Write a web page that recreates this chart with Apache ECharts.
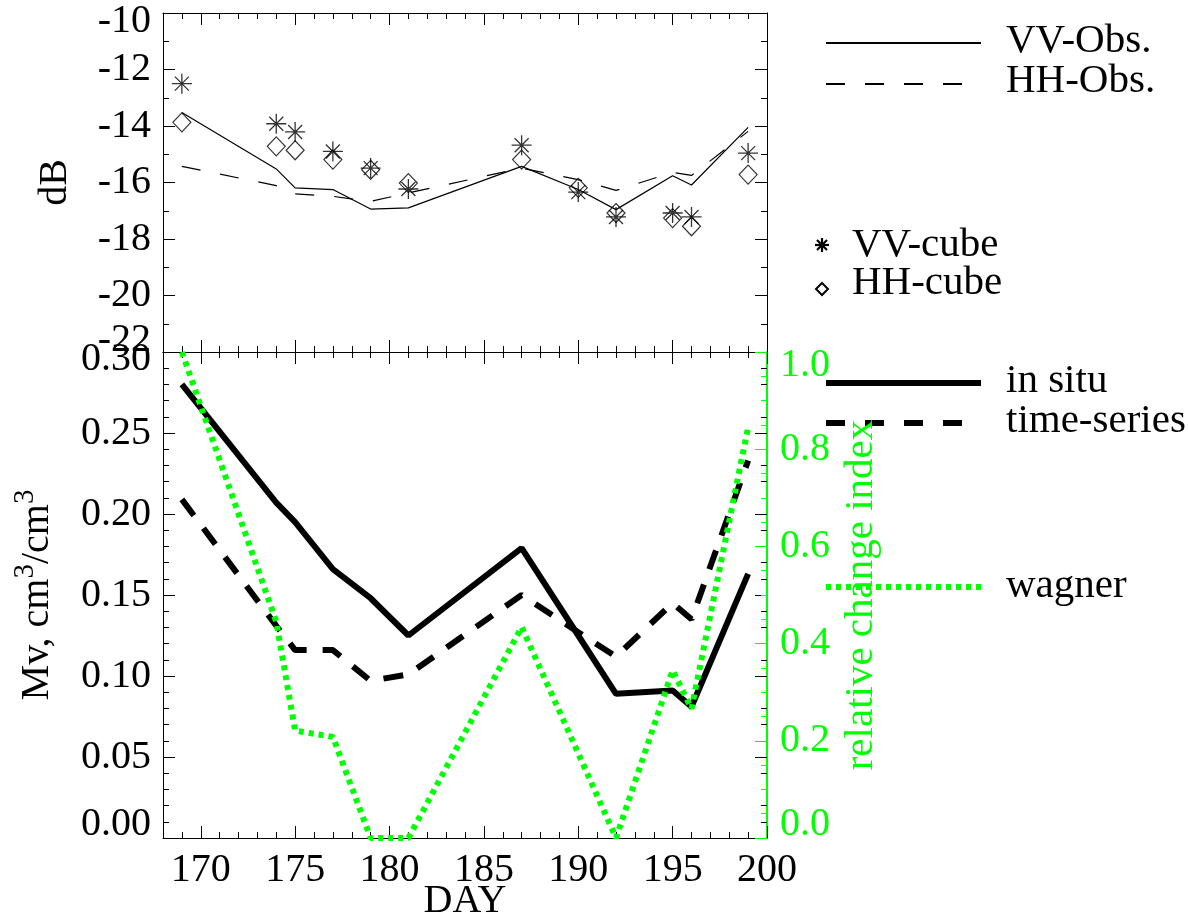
<!DOCTYPE html>
<html><head><meta charset="utf-8">
<script src="https://cdn.jsdelivr.net/npm/echarts@6/dist/echarts.min.js"></script>
<style>html,body{margin:0;padding:0;background:#fff}#c{width:1188px;height:917px}</style>
</head><body><div id="c"></div>
<script>
// ---------------- data ----------------
const days = [169, 174, 175, 177, 179, 181, 187, 190, 192, 195, 196, 199];
const vvObs = [-13.52, -15.52, -16.19, -16.25, -16.94, -16.90, -15.43, -16.25, -16.96, -15.76, -16.09, -14.05];
const hhObs = [-15.43, -16.11, -16.40, -16.49, -16.67, -16.37, -15.49, -15.90, -16.28, -15.64, -15.75, -14.19];
const vvCube = [-12.50, -13.92, -14.21, -14.90, -15.49, -16.23, -14.68, -16.34, -17.22, -17.08, -17.22, -14.96];
const hhCube = [-13.87, -14.72, -14.86, -15.19, -15.55, -16.02, -15.19, -16.19, -17.08, -17.26, -17.55, -15.72];
const inSitu = [0.280, 0.207, 0.195, 0.166, 0.148, 0.125, 0.179, 0.125, 0.089, 0.091, 0.081, 0.163];
const timeSeries = [0.209, 0.131, 0.116, 0.116, 0.097, 0.101, 0.150, 0.127, 0.112, 0.145, 0.135, 0.233];
const wagner = [1.00, 0.445, 0.221, 0.208, 0.0, 0.0, 0.434, 0.174, 0.0, 0.345, 0.266, 0.845];

const xMajorTicks = [170, 175, 180, 185, 190, 195, 200];
const dbRange = [-22, -10];
const mvRange = [0, 0.30];
const rciRange = [0, 1.0];

// ---------------- style ----------------
const FONT = 'Liberation Serif';
const FS = 40;
const LFS = 41;
const GREEN = '#00ff00';
const pairs = (ys) => days.map((d, i) => [d, ys[i]]);
const near = (a, b) => Math.abs(a - b) < 1e-9;

function xMinor(grid, pos) {
  return {type: 'value', gridIndex: grid, position: pos, min: 168, max: 200, interval: 1,
    axisLine: {show: true, onZero: false, lineStyle: {color: '#000', width: 1}},
    axisTick: {show: true, inside: true, length: 6, lineStyle: {color: '#000', width: 1}},
    axisLabel: {show: false}, splitLine: {show: false}};
}
function xMajor(grid, pos, labels, name) {
  return {type: 'value', gridIndex: grid, position: pos, min: 168, max: 200, interval: 1,
    name: name || '', nameLocation: 'middle', nameGap: 43, nameMoveOverlap: false,
    nameTextStyle: {fontFamily: FONT, fontSize: FS, color: '#000'},
    axisLine: {show: false, onZero: false},
    axisTick: {show: true, inside: true, length: 12, customValues: xMajorTicks, lineStyle: {color: '#000', width: 1}},
    axisLabel: {show: labels, customValues: xMajorTicks, margin: 12, fontFamily: FONT, fontSize: FS, color: '#000'},
    splitLine: {show: false}};
}
function edgeFmt(min, max, dec) {
  return function (v) {
    const s = v.toFixed(dec);
    if (near(v, min)) return '{lo|' + s + '}';
    if (near(v, max)) return '{hi|' + s + '}';
    return s;
  };
}
function richFor(color, up, down) {
  return {
    lo: {fontFamily: FONT, fontSize: FS, color: color, padding: [0, 0, up, 0]},
    hi: {fontFamily: FONT, fontSize: FS, color: color, padding: [down, 0, 0, 0]}
  };
}
function txt(x, y, s) {
  return {type: 'text', x: x, y: y, style: {text: s, font: LFS + 'px "' + FONT + '"', fill: '#000', verticalAlign: 'middle'}};
}
function seg(x1, y1, x2, y2, w) {
  return {type: 'line', shape: {x1: x1, y1: y1, x2: x2, y2: y2}, style: {stroke: '#000', lineWidth: w}};
}

const option = {
  animation: false,
  backgroundColor: '#fff',
  grid: [
    {left: 163, top: 13, width: 604, height: 339, outerBoundsMode: 'none', containLabel: false},
    {left: 163, top: 352, width: 604, height: 486, outerBoundsMode: 'none', containLabel: false}
  ],
  xAxis: [
    xMinor(0, 'bottom'), xMajor(0, 'bottom', false),
    xMinor(0, 'top'), xMajor(0, 'top', false),
    xMinor(1, 'bottom'), xMajor(1, 'bottom', true, 'DAY'),
    xMinor(1, 'top'), xMajor(1, 'top', false)
  ],
  yAxis: [
    {type: 'value', gridIndex: 0, position: 'left', min: dbRange[0], max: dbRange[1], interval: 2,
      name: 'dB', nameLocation: 'middle', nameGap: 88, nameRotate: 90,
      nameTextStyle: {fontFamily: FONT, fontSize: FS, color: '#000'},
      axisLine: {show: true, onZero: false, lineStyle: {color: '#000', width: 1}},
      axisTick: {show: true, inside: true, length: 12, lineStyle: {color: '#000'}},
      minorTick: {show: true, splitNumber: 2, length: 6, lineStyle: {color: '#000'}},
      axisLabel: {margin: 12, fontFamily: FONT, fontSize: FS, color: '#000',
        formatter: edgeFmt(dbRange[0], dbRange[1], 0), rich: richFor('#000', 24, 16)},
      splitLine: {show: false}},
    {type: 'value', gridIndex: 0, position: 'right', min: dbRange[0], max: dbRange[1], interval: 2,
      axisLine: {show: true, onZero: false, lineStyle: {color: '#000', width: 1}},
      axisTick: {show: true, inside: true, length: 12, lineStyle: {color: '#000'}},
      minorTick: {show: true, splitNumber: 2, length: 6, lineStyle: {color: '#000'}},
      axisLabel: {show: false}, splitLine: {show: false}},
    {type: 'value', gridIndex: 1, position: 'left', min: mvRange[0], max: mvRange[1], interval: 0.05,
      name: '{b|Mv, cm}{s|3}{b|/cm}{s|3}', nameLocation: 'middle', nameGap: 100, nameRotate: 90,
      nameTextStyle: {fontFamily: FONT, fontSize: FS, color: '#000',
        rich: {
          b: {fontFamily: FONT, fontSize: FS, color: '#000', lineHeight: 52, verticalAlign: 'middle'},
          s: {fontFamily: FONT, fontSize: 29, color: '#000', lineHeight: 30, verticalAlign: 'top'}
        }},
      axisLine: {show: true, onZero: false, lineStyle: {color: '#000', width: 1}},
      axisTick: {show: true, inside: true, length: 12, lineStyle: {color: '#000'}},
      minorTick: {show: true, splitNumber: 5, length: 6, lineStyle: {color: '#000'}},
      axisLabel: {margin: 12, fontFamily: FONT, fontSize: FS, color: '#000',
        formatter: edgeFmt(mvRange[0], mvRange[1], 2), rich: richFor('#000', 27, 14)},
      splitLine: {show: false}},
    {type: 'value', gridIndex: 1, position: 'right', min: mvRange[0], max: mvRange[1], interval: 0.05,
      axisLine: {show: false, onZero: false},
      axisTick: {show: true, inside: true, length: 12, lineStyle: {color: '#000'}},
      minorTick: {show: true, splitNumber: 5, length: 6, lineStyle: {color: '#000'}},
      axisLabel: {show: false}, splitLine: {show: false}},
    {type: 'value', gridIndex: 1, position: 'right', min: rciRange[0], max: rciRange[1], interval: 0.2,
      name: 'relative change index', nameLocation: 'middle', nameGap: 68, nameRotate: 90,
      nameTextStyle: {fontFamily: FONT, fontSize: 41, color: GREEN},
      axisLine: {show: true, onZero: false, lineStyle: {color: GREEN, width: 2}},
      axisTick: {show: true, inside: true, length: 12, lineStyle: {color: GREEN}},
      minorTick: {show: true, splitNumber: 4, length: 6, lineStyle: {color: GREEN}},
      axisLabel: {margin: 13, fontFamily: FONT, fontSize: FS, color: GREEN,
        formatter: edgeFmt(rciRange[0], rciRange[1], 1), rich: richFor(GREEN, 27, 26)},
      splitLine: {show: false}}
  ],
  series: [
    {name: 'VV-Obs.', type: 'line', xAxisIndex: 0, yAxisIndex: 0, data: pairs(vvObs),
      symbol: 'none', lineStyle: {color: '#000', width: 1.2}},
    {name: 'HH-Obs.', type: 'line', xAxisIndex: 0, yAxisIndex: 0, data: pairs(hhObs),
      symbol: 'none', lineStyle: {color: '#000', width: 1.2, type: [19, 20]}},
    {name: 'HH-cube', type: 'scatter', xAxisIndex: 0, yAxisIndex: 0, data: pairs(hhCube),
      symbol: 'diamond', symbolSize: [18, 19],
      itemStyle: {color: 'rgba(0,0,0,0)', borderColor: '#000', borderWidth: 1.2}},
    {name: 'VV-cube', type: 'scatter', xAxisIndex: 0, yAxisIndex: 0, data: pairs(vvCube),
      symbol: 'path://M0,10L20,10M10,0L10,20M3,3L17,17M17,3L3,17', symbolSize: [20, 20],
      itemStyle: {color: '#000', borderColor: '#000', borderWidth: 1.3}},
    {name: 'in situ', type: 'line', xAxisIndex: 4, yAxisIndex: 2, data: pairs(inSitu),
      symbol: 'none', lineStyle: {color: '#000', width: 6}},
    {name: 'time-series', type: 'line', xAxisIndex: 4, yAxisIndex: 2, data: pairs(timeSeries),
      symbol: 'none', lineStyle: {color: '#000', width: 6, type: [20, 16]}},
    {name: 'wagner', type: 'line', xAxisIndex: 4, yAxisIndex: 4, data: pairs(wagner), clip: false,
      symbol: 'none', lineStyle: {color: GREEN, width: 6, type: [5, 5]}}
  ],
  graphic: [
    seg(826, 43, 981, 43, 2),
    {type: 'line', shape: {x1: 826, y1: 84, x2: 962, y2: 84}, style: {stroke: '#000', lineWidth: 2, lineDash: [19, 20]}},
    txt(1006, 41, 'VV-Obs.'),
    txt(1006, 81, 'HH-Obs.'),
    seg(815, 245, 829, 245, 2.2),
    seg(822, 238, 822, 252, 2.2),
    seg(817, 240, 827, 250, 2.2),
    seg(827, 240, 817, 250, 2.2),
    {type: 'polygon', shape: {points: [[822, 283], [828, 289], [822, 295], [816, 289]]},
      style: {stroke: '#000', lineWidth: 2, fill: 'none'}},
    txt(852, 245, 'VV-cube'),
    txt(852, 283, 'HH-cube'),
    seg(826, 383, 981, 383, 6),
    {type: 'line', shape: {x1: 826, y1: 423, x2: 962, y2: 423}, style: {stroke: '#000', lineWidth: 6, lineDash: [19, 20]}},
    {type: 'line', shape: {x1: 826, y1: 587, x2: 981, y2: 587}, style: {stroke: GREEN, lineWidth: 6, lineDash: [5, 5]}},
    txt(1006, 381, 'in situ'),
    txt(1006, 421, 'time-series'),
    txt(1006, 586, 'wagner')
  ]
};
const chart = echarts.init(document.getElementById('c'), null, {renderer: 'canvas'});
chart.setOption(option);
</script></body></html>
